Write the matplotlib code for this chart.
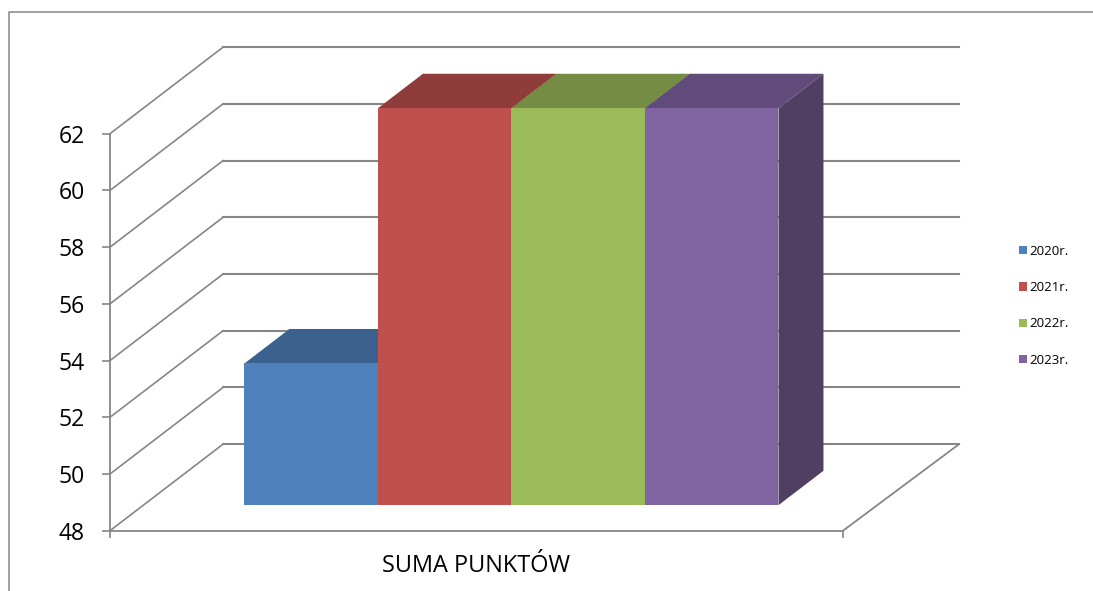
import matplotlib
matplotlib.use('Agg')
import matplotlib.pyplot as plt
from matplotlib.lines import Line2D
from matplotlib.patches import Polygon

plt.rcParams['font.family'] = ['Open Sans', 'DejaVu Sans']

years = ['2020r.', '2021r.', '2022r.', '2023r.']
values = [53, 62, 62, 62]
colors = ['#4F81BD', '#C0504D', '#9BBB59', '#8064A2']
top_colors = ['#3B618E', '#903C3A', '#748C43', '#604B7A']
side_colors = ['#324F74', '#753230', '#5E7236', '#513F63']
y_ticks = [48, 50, 52, 54, 56, 58, 60, 62]
category = 'SUMA PUNKTÓW'
grid_color = '#868686'

# oblique 3d look, one unit of depth moves this far in data units
depth_x = 113 / 733
depth_x_right = 116 / 733
depth_y = 86.5 / 28.36
bar_front = 0.295
bar_back = 0.693
bar_w = 133.5 / 733
bar_gap = 0.138


def project(x, y, d):
    return x + d * depth_x, y + d * depth_y


fig = plt.figure(figsize=(10.93, 5.91), dpi=100)
ax = fig.add_axes([110 / 1093, 1 - 530.7 / 591, 733 / 1093, 397 / 591])
ax.set_xlim(0, 1)
ax.set_ylim(48, 62)

# back wall and floor lines
for v in y_ticks:
    bx, by = project(0, v, 1)
    ax.plot([0, bx], [v, by], color=grid_color, lw=1.2, clip_on=False, zorder=1)
    ax.plot([bx, 1 + depth_x_right], [by, by], color=grid_color, lw=1.5, clip_on=False, zorder=1)
ax.plot([1, 1 + depth_x_right], [48, 48 + depth_y], color=grid_color, lw=1.3, clip_on=False, zorder=1)

# bars, front face + top + side
for i, (year, v) in enumerate(zip(years, values)):
    x0, y0 = project(bar_gap + i * bar_w, 48, bar_front)
    x1 = x0 + bar_w
    y1 = y0 + v - 48
    dx = (bar_back - bar_front) * depth_x
    dy = (bar_back - bar_front) * depth_y
    ax.add_patch(Polygon([(x1, y0), (x1 + dx, y0 + dy), (x1 + dx, y1 + dy), (x1, y1)],
                         fc=side_colors[i], ec='none', clip_on=False, zorder=2 + i))
    ax.add_patch(Polygon([(x0, y1), (x1, y1), (x1 + dx, y1 + dy), (x0 + dx, y1 + dy)],
                         fc=top_colors[i], ec='none', clip_on=False, zorder=2 + i))
    ax.bar(x0, v - 48, bar_w, bottom=y0, align='edge', color=colors[i], label=year,
           clip_on=False, zorder=2 + i)

ax.patch.set_visible(False)
for s in ['top', 'right']:
    ax.spines[s].set_visible(False)
for s in ['left', 'bottom']:
    ax.spines[s].set_color(grid_color)
    ax.spines[s].set_linewidth(1.3)
    ax.spines[s].set_zorder(1.5)

ax.set_yticks(y_ticks)
ax.tick_params(axis='y', length=5.8, width=1.2, color=grid_color, labelsize=16.5, pad=12.5)
ax.set_xticks([0, 1], labels=['', ''])
ax.tick_params(axis='x', which='major', length=5, width=1.2, color=grid_color)
ax.set_xticks([0.5], labels=[category], minor=True)
ax.tick_params(axis='x', which='minor', length=0, labelsize=16.9, pad=17)

ax.legend(loc='upper left', bbox_to_anchor=(1019 / 1093, 1 - 244.5 / 591), bbox_transform=fig.transFigure,
          frameon=False, fontsize=9.5, handlelength=0.6, handleheight=0.6, handletextpad=0.2,
          labelspacing=1.78, borderpad=0, borderaxespad=0)

# chart border, cut off at right and bottom of the image
fig.add_artist(Line2D([9 / 1093, 9 / 1093, 1], [0, 1 - 11.5 / 591, 1 - 11.5 / 591], color=grid_color, lw=1.1))

fig.savefig('out.png', dpi=100)
